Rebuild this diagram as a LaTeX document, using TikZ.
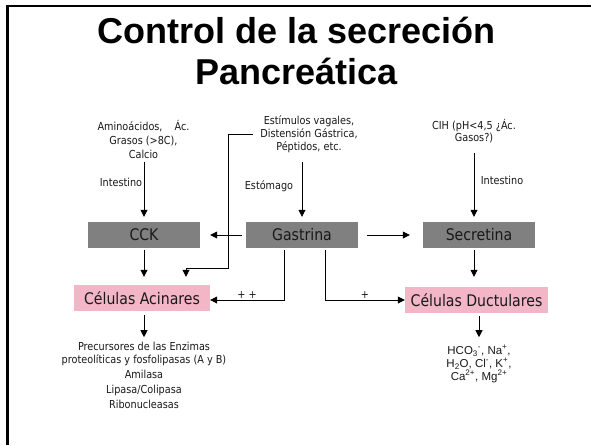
\documentclass[tikz,border=0pt]{standalone}
\usepackage{fontspec}
\setmainfont{DejaVu Sans}[FakeStretch=0.88]
\newfontfamily\titlefont{Liberation Sans}
\usetikzlibrary{arrows.meta}
\definecolor{boxgray}{RGB}{128,128,128}
\definecolor{boxpink}{RGB}{242,182,198}
\definecolor{txt}{RGB}{25,25,25}
\begin{document}
\begin{tikzpicture}[x=1pt,y=-1pt,
  hbox/.style={fill=boxgray, minimum width=112pt, minimum height=26pt, inner sep=0pt, font=\fontsize{16}{19}\selectfont, text=txt},
  cbox/.style={fill=boxpink, minimum height=26pt, inner sep=0pt, font=\fontsize{16}{19}\selectfont, text=txt},
  small/.style={font=\fontsize{11}{13.5}\selectfont, text=txt, align=center, inner sep=0pt},
  ionfont/.style={font=\titlefont\fontsize{11.5}{13}\selectfont, text=txt, align=center, inner sep=0pt},
  conn/.style={draw=black, line width=0.8pt, -{Triangle[length=7pt,width=7pt]}},
]
\useasboundingbox (0,0) rectangle (591,445);
\fill[white] (0,0) rectangle (591,445);
\draw[line width=2.5pt] (7.5,445) -- (7.5,6) -- (591,6);

\node[font=\titlefont\bfseries\fontsize{36}{41}\selectfont, text=black, align=center, inner sep=0pt] (title) at (296.5,50.5) {Control de la secreción\\Pancreática};

% boxes
\node[hbox] (cck) at (144,235) {CCK};
\node[hbox] (gas) at (302,235) {Gastrina};
\node[hbox] (sec) at (479,235) {Secretina};
\node[cbox, minimum width=136pt] (aci) at (142,298) {Células Acinares};
\node[cbox, minimum width=143pt] (duc) at (476.5,300) {Células Ductulares};

% texts
\node[small, font=\fontsize{11}{14}\selectfont] (amino) at (143.5,139) {Aminoácidos,\hspace{12pt}Ác.\\Grasos (>8C),\\Calcio};
\node[small, font=\fontsize{11}{13}\selectfont] (estim) at (309,134) {Estímulos vagales,\\Distensión Gástrica,\\Péptidos, etc.};
\node[small, font=\fontsize{11}{12}\selectfont] (cih) at (474,131) {CIH (pH<4,5 ¿Ác.\\Gasos?)};
\node[small] (intL) at (121,182) {Intestino};
\node[small] (esto) at (269,186) {Estómago};
\node[small] (intR) at (502,180) {Intestino};
\node[small, font=\fontsize{11}{15}\selectfont] (prod) at (144,375) {Precursores de las Enzimas\\[-2pt]proteolíticas y fosfolipasas (A y B)\\Amilasa\\Lipasa/Colipasa\\Ribonucleasas};
\node[ionfont] (ions) at (479,364) {HCO\textsubscript{3}\textsuperscript{-}, Na\textsuperscript{+},\\H\textsubscript{2}O, Cl\textsuperscript{-}, K\textsuperscript{+},\\Ca\textsuperscript{2+}, Mg\textsuperscript{2+}};

% connectors
\draw[conn] ([yshift=-4pt]amino.south -| cck.north) -- ([yshift=5pt]cck.north);
\draw[conn] ([yshift=-9pt]estim.south -| gas.north) -- ([yshift=5pt]gas.north);
\draw[conn] ([yshift=-10pt]cih.south) -- ([yshift=5pt]cih.south |- sec.north);
\draw[conn] ([xshift=-4pt]gas.west) -- ([xshift=10pt]cck.east);
\draw[conn] ([xshift=9pt]gas.east) -- ([xshift=-13pt]sec.west);
\draw[conn] ([xshift=-7pt]estim.west) -| (228,268) -| ([xshift=44pt,yshift=8pt]aci.north);
\draw[conn] ([yshift=-2pt]cck.south) -- ([yshift=8pt]aci.north -| cck.south);
\draw[conn] ([xshift=-18pt,yshift=-2pt]gas.south) |- node[pos=0.75, above=1pt, small] {+ +} ([yshift=-2pt]aci.east);
\draw[conn] ([xshift=23pt,yshift=-2pt]gas.south) |- node[pos=0.75, above=1pt, small] {+} (duc.west);
\draw[conn] ([yshift=-2pt]sec.south -| cih.south) -- ([yshift=10pt]duc.north -| cih.south);
\draw[conn] ([yshift=-4pt]aci.south -| prod.north) -- ++(0,22);
\draw[conn] ([yshift=-3pt]duc.south -| ions.north) -- ++(0,21);
\end{tikzpicture}
\end{document}
